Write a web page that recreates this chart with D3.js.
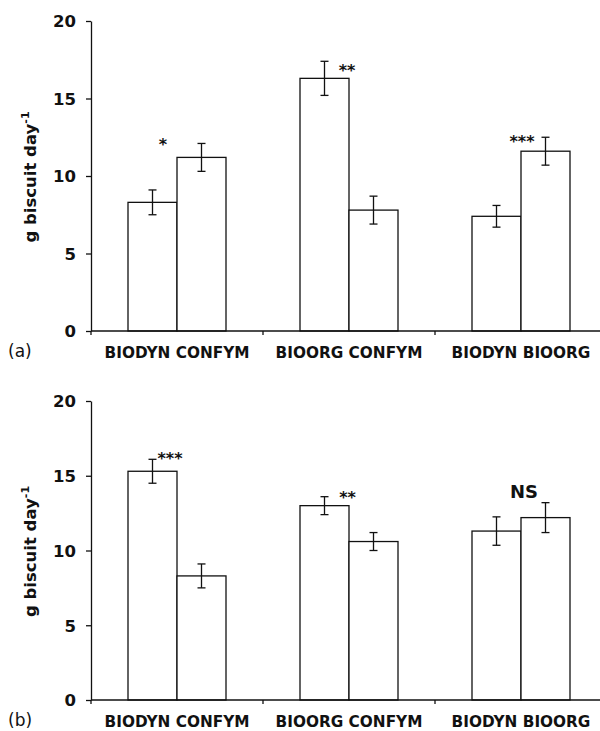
<!DOCTYPE html>
<html>
<head>
<meta charset="utf-8">
<script src="https://cdn.jsdelivr.net/npm/d3@7"></script>
<style>
  body { margin: 0; background: #fff; }
  svg { display: block; }
</style>
</head>
<body>
<div id="chart"></div>
<script>
// two panels of paired bars (mean ± SE), significance marks above each pair

const categories = ['BIODYN CONFYM', 'BIOORG CONFYM', 'BIODYN BIOORG'];
const yTicks = [0, 5, 10, 15, 20];

// panel (a)
const firstA     = [8.3, 16.3, 7.4];
const secondA    = [11.2, 7.8, 11.6];
const errFirstA  = [0.8, 1.1, 0.7];
const errSecondA = [0.9, 0.9, 0.9];
const sigA       = ['*', '**', '***'];
const sigAtA     = [11.65, 16.45, 11.87];

// panel (b)
const firstB     = [15.3, 13.0, 11.3];
const secondB    = [8.3, 10.6, 12.2];
const errFirstB  = [0.8, 0.6, 0.95];
const errSecondB = [0.8, 0.6, 1.0];
const sigB       = ['***', '**', 'NS'];
const sigAtB     = [15.79, 13.18, 13.5];

const W = 600, H = 731;
const FONT = '"DejaVu Sans", Verdana, sans-serif';

const svg = d3.select('#chart').append('svg')
  .attr('width', W).attr('height', H)
  .attr('viewBox', `0 0 ${W} ${H}`);

const x0 = d3.scaleBand()
  .domain(categories)
  .range([91, 607])
  .padding(0);

const barW = 49;

function drawPanel(opts) {
  const { yTop, yBottom, first, second, errFirst, errSecond, sig, sigAt, sigDx, letter } = opts;

  const y = d3.scaleLinear().domain([0, 20]).range([yBottom, yTop]);
  const g = svg.append('g');

  const rows = categories.map((c, i) => ({
    cat: c,
    bars: [
      { v: first[i],  e: errFirst[i],  side: 0 },
      { v: second[i], e: errSecond[i], side: 1 },
    ],
    sig: sig[i],
    sigAt: sigAt[i],
    dx: sigDx[i],
  }));

  const cx = c => x0(c) + x0.bandwidth() / 2;

  const groups = g.selectAll('.pair')
    .data(rows)
    .join('g')
    .attr('class', 'pair');

  groups.selectAll('rect')
    .data(d => d.bars.map(b => ({ ...b, cat: d.cat })))
    .join('rect')
    .attr('x', d => cx(d.cat) - barW + d.side * barW)
    .attr('width', barW)
    .attr('y', d => y(d.v))
    .attr('height', d => y(0) - y(d.v))
    .attr('fill', '#fff')
    .attr('stroke', '#111')
    .attr('stroke-width', 1.3);

  // error bars
  const errs = groups.selectAll('.err')
    .data(d => d.bars.map(b => ({ ...b, cat: d.cat })))
    .join('g')
    .attr('class', 'err')
    .attr('stroke', '#111')
    .attr('stroke-width', 1.3);

  const bx = d => cx(d.cat) - barW / 2 + d.side * barW;
  errs.append('line')
    .attr('x1', bx).attr('x2', bx)
    .attr('y1', d => y(d.v + d.e)).attr('y2', d => y(d.v - d.e));
  errs.append('line')
    .attr('x1', d => bx(d) - 4).attr('x2', d => bx(d) + 4)
    .attr('y1', d => y(d.v + d.e)).attr('y2', d => y(d.v + d.e));
  errs.append('line')
    .attr('x1', d => bx(d) - 4).attr('x2', d => bx(d) + 4)
    .attr('y1', d => y(d.v - d.e)).attr('y2', d => y(d.v - d.e));

  // significance marks
  groups.append('text')
    .attr('x', d => cx(d.cat) + d.dx)
    .attr('y', d => y(d.sigAt))
    .attr('text-anchor', 'middle')
    .attr('font-family', FONT)
    .attr('font-weight', 'bold')
    .attr('font-size', d => d.sig === 'NS' ? 18 : 16)
    .attr('fill', '#111')
    .text(d => d.sig);

  // y axis
  const yAxis = g.append('g')
    .attr('transform', `translate(91,0)`)
    .call(d3.axisLeft(y).tickValues(yTicks).tickSize(5).tickSizeOuter(0).tickPadding(10));
  yAxis.select('.domain').attr('stroke', '#111').attr('stroke-width', 1.3);
  yAxis.selectAll('.tick line').attr('stroke', '#111').attr('stroke-width', 1.3);
  yAxis.selectAll('.tick text')
    .attr('x', -15).attr('dy', '0.36em')
    .attr('font-family', FONT)
    .attr('font-weight', 'bold')
    .attr('font-size', 16.5)
    .attr('fill', '#111');

  // x axis: line plus boundary ticks
  g.append('line')
    .attr('x1', 91).attr('x2', W)
    .attr('y1', y(0)).attr('y2', y(0))
    .attr('stroke', '#111').attr('stroke-width', 1.3);
  g.selectAll('.xtick')
    .data(categories.concat(['end']))
    .join('line')
    .attr('class', 'xtick')
    .attr('x1', (d, i) => x0.range()[0] + i * x0.step())
    .attr('x2', (d, i) => x0.range()[0] + i * x0.step())
    .attr('y1', y(0)).attr('y2', y(0) + 4)
    .attr('stroke', '#111').attr('stroke-width', 1.3);

  g.selectAll('.xlabel')
    .data(categories)
    .join('text')
    .attr('class', 'xlabel')
    .attr('x', d => cx(d))
    .attr('y', y(0) + 26.5)
    .attr('text-anchor', 'middle')
    .attr('font-family', FONT)
    .attr('font-weight', 'bold')
    .attr('font-size', 15.3)
    .attr('fill', '#111')
    .text(d => d);

  // panel letter
  g.append('text')
    .attr('x', 8)
    .attr('y', y(0) + 26)
    .attr('font-family', FONT)
    .attr('font-size', 17)
    .attr('fill', '#111')
    .text(letter);

  // y title
  const title = g.append('text')
    .attr('transform', `translate(36,${(yTop + yBottom) / 2 + 1}) rotate(-90)`)
    .attr('text-anchor', 'middle')
    .attr('font-family', FONT)
    .attr('font-weight', 'bold')
    .attr('font-size', 16.5)
    .attr('fill', '#111');
  title.append('tspan').text('g biscuit day');
  title.append('tspan').attr('font-size', 11).attr('dy', -7).text('-1');
}

drawPanel({
  yTop: 21, yBottom: 331,
  first: firstA, second: secondA, errFirst: errFirstA, errSecond: errSecondA,
  sig: sigA, sigAt: sigAtA, sigDx: [-14, -2, 1], letter: '(a)',
});

drawPanel({
  yTop: 401, yBottom: 700,
  first: firstB, second: secondB, errFirst: errFirstB, errSecond: errSecondB,
  sig: sigB, sigAt: sigAtB, sigDx: [-7, -1.5, 3], letter: '(b)',
});
</script>
</body>
</html>
